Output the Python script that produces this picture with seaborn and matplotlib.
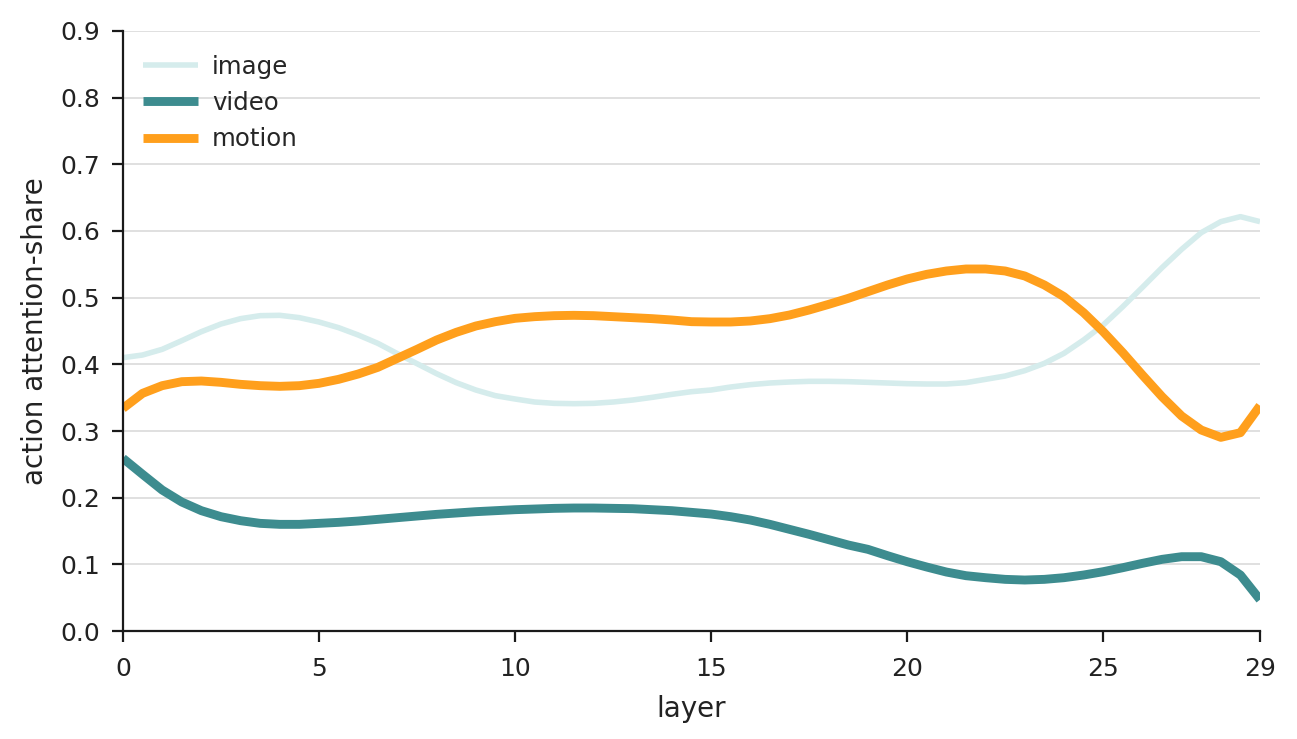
import numpy as np
import pandas as pd
import matplotlib
matplotlib.use("Agg")
import matplotlib.pyplot as plt
import seaborn as sns

# layer positions (read every half layer from the reference)
layers = [i / 2 for i in range(59)]

# action attention-share per modality
image = [0.410, 0.414, 0.4225, 0.4355, 0.449, 0.4605, 0.4685, 0.473, 0.4735, 0.470,
         0.4635, 0.455, 0.444, 0.4315, 0.416, 0.401, 0.386, 0.3725, 0.3615, 0.353,
         0.348, 0.3435, 0.3415, 0.341, 0.3415, 0.3435, 0.3465, 0.3505, 0.355, 0.359,
         0.3615, 0.366, 0.3695, 0.372, 0.3735, 0.3745, 0.3745, 0.374, 0.373, 0.372,
         0.371, 0.3705, 0.3705, 0.3725, 0.3775, 0.3825, 0.3905, 0.4015, 0.4165, 0.4365,
         0.459, 0.4865, 0.5155, 0.545, 0.5725, 0.5975, 0.614, 0.6215, 0.614]
video = [0.259, 0.235, 0.2115, 0.1935, 0.1805, 0.1715, 0.1655, 0.1615, 0.160, 0.160,
         0.1615, 0.163, 0.165, 0.1675, 0.170, 0.1725, 0.175, 0.177, 0.179, 0.1805,
         0.182, 0.183, 0.184, 0.1845, 0.1845, 0.184, 0.1835, 0.182, 0.1805, 0.178,
         0.1755, 0.1715, 0.1665, 0.160, 0.1525, 0.145, 0.137, 0.129, 0.1225, 0.113,
         0.104, 0.096, 0.0885, 0.083, 0.080, 0.0775, 0.0765, 0.0775, 0.080, 0.084,
         0.089, 0.095, 0.1015, 0.1075, 0.1115, 0.1115, 0.104, 0.084, 0.047]
motion = [0.334, 0.3565, 0.368, 0.374, 0.375, 0.373, 0.370, 0.368, 0.367, 0.368,
          0.3715, 0.3775, 0.3855, 0.3955, 0.409, 0.4225, 0.4365, 0.448, 0.4575, 0.464,
          0.469, 0.4715, 0.473, 0.4735, 0.473, 0.4715, 0.470, 0.4685, 0.4665, 0.464,
          0.4635, 0.4635, 0.465, 0.4685, 0.474, 0.4815, 0.490, 0.499, 0.509, 0.519,
          0.528, 0.535, 0.540, 0.543, 0.543, 0.540, 0.5325, 0.519, 0.5015, 0.4775,
          0.449, 0.4175, 0.384, 0.3515, 0.3225, 0.3015, 0.2905, 0.2975, 0.338]

series_names = ["image", "video", "motion"]
colors = {"image": "#d5ecec", "video": "#3d8c8f", "motion": "#ff9f1c"}
widths = {"image": 2.0, "video": 3.2, "motion": 3.2}

df = pd.DataFrame({"layer": layers, "image": image, "video": video, "motion": motion})
long = df.melt(id_vars="layer", var_name="modality", value_name="share")

sns.set_theme(style="ticks")
plt.rcParams["font.family"] = ["DejaVu Sans"]

fig = plt.figure(figsize=(6.485, 3.695), dpi=200)
ax = fig.add_axes([0.0948, 0.1461, 0.8767, 0.8120])

for name in series_names:
    sub = long[long["modality"] == name]
    sns.lineplot(data=sub, x="layer", y="share", color=colors[name],
                 linewidth=widths[name], label=name, ax=ax,
                 solid_joinstyle="round", solid_capstyle="butt")

ax.set_xlim(0, 29)
ax.set_ylim(0, 0.9)
ax.set_xticks([0, 5, 10, 15, 20, 25, 29])
ax.set_yticks(np.arange(0, 0.91, 0.1))
ax.set_yticklabels([f"{v:.1f}" for v in np.arange(0, 0.91, 0.1)])
ax.yaxis.grid(True, color="#e0e0e0", linewidth=0.7)
ax.set_axisbelow(True)
sns.despine(ax=ax)
for s in ["left", "bottom"]:
    ax.spines[s].set_linewidth(0.8)
    ax.spines[s].set_color("#1a1a1a")
ax.tick_params(axis="both", labelsize=9, length=3.8, width=0.8, color="#1a1a1a",
               labelcolor="#222222")
ax.tick_params(axis="x", pad=5.5)
ax.tick_params(axis="y", pad=4.5)

ax.set_xlabel("layer", fontsize=10, color="#222222", labelpad=5)
ax.set_ylabel("action attention-share", fontsize=10, color="#222222")

leg = ax.legend(loc="upper left", bbox_to_anchor=(0.0, 0.993), frameon=False,
                fontsize=8.8, handlelength=2.25, handletextpad=0.6,
                borderaxespad=0.4, labelspacing=0.5)

fig.savefig("out.png", dpi=200)
